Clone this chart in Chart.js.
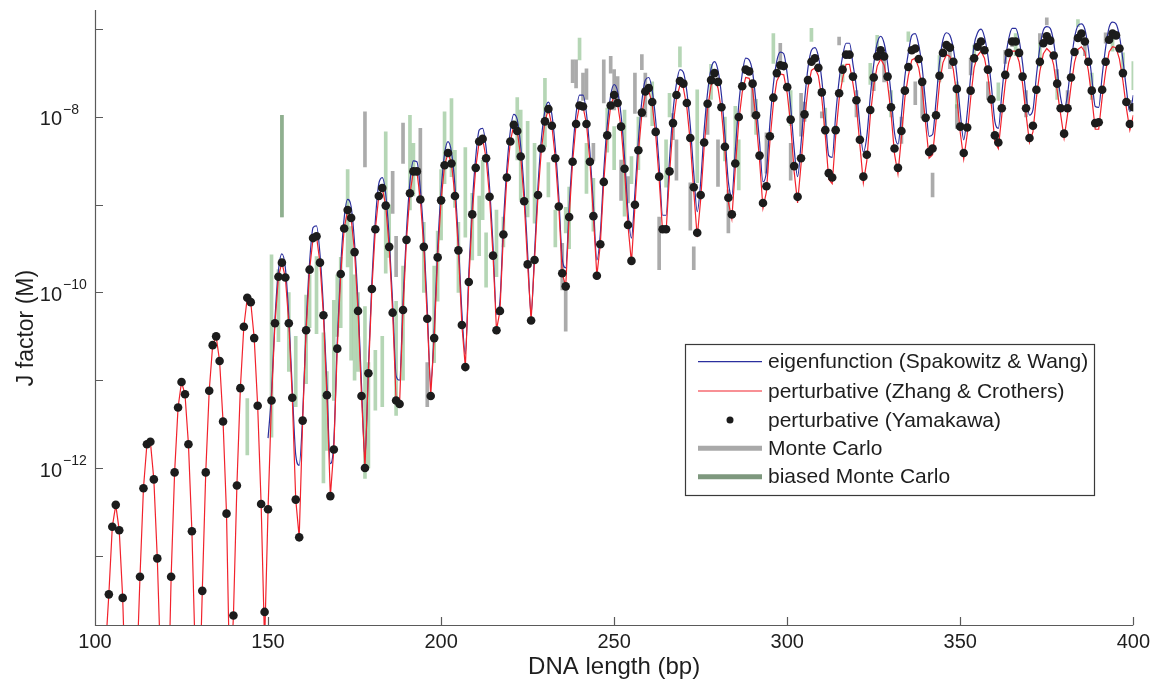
<!DOCTYPE html>
<html><head><meta charset="utf-8">
<script src="https://cdn.jsdelivr.net/npm/chart.js@4.4.1/dist/chart.umd.min.js"></script>
<style>html,body{margin:0;padding:0;background:#fff;}canvas{display:block;}</style>
</head><body>
<canvas id="c" width="1155" height="682"></canvas>
<script>
// ---------------- DATA (log10 of J factor in M, one value per bp) ----------------
const bpStart = 100;          // first DNA length of the per-bp series
const eigenStart = 150;       // eigenfunction curve starts here
const xTickValues = [100, 150, 200, 250, 300, 350, 400];
const yTickExponents = [-7, -8, -9, -10, -11, -12, -13];
const yLabelExponents = [-8, -10, -12];
const yRangeExp = [-13.789, -6.781];

const seriesLabels = ['eigenfunction (Spakowitz & Wang)', 'perturbative (Zhang & Crothers)',
  'perturbative (Yamakawa)', 'Monte Carlo', 'biased Monte Carlo'];

const yamakawaLogJ = [
  null, null, null, null, -13.44, -12.67, -12.42, -12.71, -13.48, null,
  null, null, null, -13.24, -12.23, -11.73, -11.70, -12.13, -13.03, null,
  null, null, -13.24, -12.05, -11.31, -11.02, -11.16, -11.73, -12.72, null,
  null, -13.40, -12.05, -11.12, -10.60, -10.50, -10.78, -11.47, -12.52, null,
  -13.68, -12.20, -11.09, -10.39, -10.06, -10.11, -10.52, -11.29, -12.41, -13.64,
  -12.47, -11.23, -10.35, -9.82, -9.66, -9.83, -10.35, -11.20, -12.36, -12.79,
  -11.46, -10.43, -9.74, -9.38, -9.36, -9.66, -10.26, -11.17, -12.32, -11.79,
  -10.64, -9.79, -9.27, -9.06, -9.15, -9.54, -10.21, -11.18, -12.00, -10.92,
  -9.96, -9.28, -8.90, -8.81, -9.01, -9.48, -10.23, -11.23, -11.27, -10.20,
  -9.40, -8.87, -8.62, -8.62, -8.94, -9.48, -10.30, -11.18, -10.52, -9.60,
  -8.95, -8.55, -8.41, -8.53, -8.90, -9.52, -10.37, -10.85, -9.88, -9.11,
  -8.58, -8.28, -8.25, -8.47, -8.91, -9.58, -10.43, -10.21, -9.34, -8.69,
  -8.28, -8.09, -8.16, -8.45, -8.96, -9.68, -10.32, -9.63, -8.89, -8.36,
  -8.05, -7.91, -8.10, -8.47, -9.02, -9.78, -9.93, -9.14, -8.51, -8.08,
  -7.87, -7.88, -8.08, -8.51, -9.13, -9.81, -9.45, -8.74, -8.21, -7.87,
  -7.75, -7.84, -8.11, -8.59, -9.23, -9.64, -9.00, -8.38, -7.95, -7.71,
  -7.67, -7.83, -8.17, -8.68, -9.28, -9.28, -8.62, -8.07, -7.75, -7.59,
  -7.62, -7.84, -8.24, -8.80, -9.32, -8.89, -8.29, -7.85, -7.58, -7.50,
  -7.60, -7.89, -8.34, -8.92, -9.11, -8.53, -8.00, -7.65, -7.46, -7.48,
  -7.62, -7.98, -8.44, -8.98, -8.79, -8.22, -7.78, -7.50, -7.41, -7.42,
  -7.66, -8.03, -8.56, -8.91, -8.47, -7.97, -7.58, -7.37, -7.33, -7.44,
  -7.72, -8.15, -8.64, -8.69, -8.15, -7.73, -7.46, -7.29, -7.29, -7.54,
  -7.81, -8.26, -8.68, -8.43, -7.92, -7.55, -7.31, -7.24, -7.31, -7.54,
  -7.89, -8.36, -8.58, -8.16, -7.70, -7.43, -7.24, -7.22, -7.34, -7.60,
  -8.01, -8.40, -8.36, -7.98, -7.53, -7.27, -7.18, -7.21, -7.37, -7.68,
  -8.11, -8.41, -8.12, -7.70, -7.33, -7.20, -7.14, -7.24, -7.46, -7.80,
  -8.21, -8.29, -7.90, -7.52, -7.27, -7.14, -7.14, -7.27, -7.54, -7.90,
  -8.24, -8.10, -7.69, -7.37, -7.16, -7.08, -7.13, -7.30, -7.62, -7.90,
  -8.19, -7.90, -7.55, -7.26, -7.10, -7.05, -7.14, -7.37, -7.70, -8.07,
  -8.06, -7.69, -7.37, -7.12, -7.05, -7.07, -7.22, -7.50, -7.83, -8.08,
  -7.89
];

const zhangLogJ = [
  -15.0, -15.8, -15.2, -14.1, -13.44, -12.67, -12.42, -12.71, -13.48, -14.8,
  -15.9, -15.6, -14.4, -13.24, -12.23, -11.73, -11.70, -12.13, -13.03, -14.3,
  -15.7, -15.0, -13.24, -12.05, -11.31, -11.02, -11.16, -11.73, -12.72, -14.2,
  -14.9, -13.40, -12.05, -11.12, -10.60, -10.50, -10.78, -11.47, -12.52, -14.6,
  -13.68, -12.20, -11.09, -10.39, -10.06, -10.11, -10.52, -11.29, -12.41, -14.0,
  -12.47, -11.23, -10.35, -9.82, -9.66, -9.83, -10.35, -11.20, -12.36, -12.79,
  -11.46, -10.43, -9.74, -9.38, -9.36, -9.66, -10.26, -11.17, -12.32, -11.79,
  -10.64, -9.79, -9.27, -9.06, -9.15, -9.54, -10.21, -11.18, -12.00, -10.92,
  -9.96, -9.28, -8.90, -8.81, -9.01, -9.48, -10.23, -11.23, -11.27, -10.20,
  -9.40, -8.87, -8.62, -8.62, -8.94, -9.48, -10.30, -11.18, -10.52, -9.60,
  -8.95, -8.55, -8.41, -8.53, -8.90, -9.52, -10.37, -10.85, -9.88, -9.11,
  -8.58, -8.28, -8.25, -8.47, -8.91, -9.58, -10.43, -10.21, -9.34, -8.69,
  -8.28, -8.09, -8.16, -8.45, -8.96, -9.68, -10.32, -9.63, -8.89, -8.36,
  -8.05, -7.91, -8.10, -8.47, -9.02, -9.78, -9.93, -9.14, -8.51, -8.08,
  -7.87, -7.88, -8.08, -8.51, -9.13, -9.81, -9.45, -8.74, -8.21, -7.87,
  -7.76, -7.85, -8.12, -8.60, -9.24, -9.66, -9.02, -8.40, -7.97, -7.74,
  -7.70, -7.86, -8.20, -8.71, -9.31, -9.31, -8.65, -8.10, -7.79, -7.64,
  -7.67, -7.89, -8.29, -8.85, -9.37, -8.94, -8.34, -7.90, -7.64, -7.57,
  -7.67, -7.93, -8.38, -8.97, -9.16, -8.58, -8.05, -7.72, -7.55, -7.56,
  -7.69, -8.03, -8.49, -9.04, -8.85, -8.28, -7.85, -7.59, -7.51, -7.52,
  -7.73, -8.09, -8.62, -8.98, -8.54, -8.04, -7.67, -7.47, -7.44, -7.53,
  -7.79, -8.21, -8.71, -8.76, -8.22, -7.80, -7.56, -7.40, -7.40, -7.62,
  -7.88, -8.32, -8.75, -8.50, -7.99, -7.64, -7.42, -7.34, -7.41, -7.62,
  -7.96, -8.42, -8.65, -8.23, -7.78, -7.53, -7.35, -7.33, -7.44, -7.68,
  -8.08, -8.47, -8.43, -8.05, -7.62, -7.38, -7.29, -7.31, -7.46, -7.76,
  -8.18, -8.48, -8.20, -7.79, -7.44, -7.30, -7.25, -7.33, -7.54, -7.87,
  -8.28, -8.36, -7.98, -7.62, -7.38, -7.25, -7.25, -7.37, -7.62, -7.97,
  -8.29, -8.17, -7.78, -7.48, -7.28, -7.22, -7.26, -7.41, -7.70, -7.97,
  -8.24, -7.97, -7.65, -7.38, -7.23, -7.20, -7.26, -7.47, -7.78, -8.14,
  -8.14, -7.78, -7.48, -7.26, -7.20, -7.21, -7.34, -7.59, -7.90, -8.15,
  -7.98
];

const eigenLogJ = [
  -11.66, -11.15, -10.30, -9.75, -9.56, -9.72, -10.28, -11.10, -11.85, -11.97,
  -11.40, -10.38, -9.66, -9.26, -9.24, -9.56, -10.18, -11.05, -11.95, -11.70,
  -10.55, -9.70, -9.15, -8.94, -9.02, -9.44, -10.12, -11.05, -11.88, -10.85,
  -9.88, -9.18, -8.76, -8.69, -8.88, -9.38, -10.12, -10.95, -11.00, -10.10,
  -9.30, -8.74, -8.50, -8.51, -8.82, -9.38, -10.18, -11.05, -10.42, -9.50,
  -8.84, -8.42, -8.28, -8.40, -8.78, -9.42, -10.22, -10.70, -9.78, -9.00,
  -8.46, -8.15, -8.13, -8.35, -8.80, -9.46, -10.25, -10.10, -9.22, -8.58,
  -8.16, -7.97, -8.03, -8.33, -8.84, -9.55, -10.25, -9.55, -8.78, -8.24,
  -7.93, -7.83, -7.97, -8.35, -8.90, -9.62, -9.72, -9.02, -8.40, -7.96,
  -7.75, -7.75, -7.96, -8.40, -9.00, -9.63, -9.33, -8.62, -8.09, -7.75,
  -7.63, -7.71, -7.98, -8.46, -9.08, -9.38, -8.86, -8.26, -7.82, -7.58,
  -7.55, -7.70, -8.04, -8.55, -9.12, -9.12, -8.48, -7.94, -7.62, -7.46,
  -7.49, -7.71, -8.10, -8.64, -9.08, -8.74, -8.15, -7.72, -7.45, -7.37,
  -7.47, -7.75, -8.20, -8.74, -8.90, -8.38, -7.86, -7.51, -7.33, -7.35,
  -7.49, -7.84, -8.28, -8.74, -8.62, -8.07, -7.63, -7.36, -7.26, -7.28,
  -7.51, -7.88, -8.36, -8.68, -8.30, -7.82, -7.44, -7.24, -7.21, -7.31,
  -7.58, -8.00, -8.44, -8.46, -7.98, -7.58, -7.31, -7.16, -7.16, -7.40,
  -7.67, -8.10, -8.40, -8.22, -7.77, -7.40, -7.16, -7.08, -7.16, -7.39,
  -7.74, -8.18, -8.31, -7.98, -7.54, -7.27, -7.07, -7.05, -7.18, -7.44,
  -7.85, -8.22, -8.20, -7.82, -7.38, -7.12, -7.04, -7.07, -7.22, -7.52,
  -7.95, -8.26, -7.96, -7.54, -7.18, -7.04, -7.00, -7.09, -7.31, -7.65,
  -8.05, -8.13, -7.74, -7.36, -7.11, -6.99, -6.99, -7.12, -7.39, -7.75,
  -7.98, -7.92, -7.53, -7.21, -7.01, -6.97, -6.99, -7.15, -7.46, -7.78,
  -7.92, -7.74, -7.39, -7.10, -6.96, -6.94, -7.00, -7.22, -7.55, -7.88,
  -7.89, -7.53, -7.21, -6.98, -6.92, -6.94, -7.08, -7.35, -7.68, -7.94,
  -7.75
];

// Monte Carlo error bars: [bp, low log10 J, high log10 J]
const mcBars = [
  [154, -9.14, -7.98], [178, -8.57, -7.94], [186, -9.10, -8.62], [187, -9.82, -9.36], [189, -8.53, -8.07],
  [194, -8.91, -8.13], [196, -11.30, -10.80], [235, -9.97, -9.44], [236, -10.44, -9.97], [238, -7.61, -7.35],
  [239, -7.67, -7.35], [241, -7.81, -7.50], [242, -7.80, -7.45], [244, -8.50, -8.30], [247, -7.84, -7.35],
  [249, -7.50, -7.31], [250, -7.92, -7.46], [251, -7.88, -7.54], [252, -8.95, -8.49], [254, -8.98, -8.68],
  [256, -7.96, -7.50], [258, -7.46, -7.29], [259, -8.00, -7.50], [263, -9.74, -9.14], [267, -8.26, -7.96],
  [268, -8.72, -8.26], [272, -9.29, -8.75], [273, -9.74, -9.48], [277, -8.20, -7.85], [280, -8.79, -8.26],
  [283, -9.32, -8.83], [290, -8.00, -7.62], [294, -8.64, -8.18], [298, -7.46, -7.16], [301, -8.72, -8.30],
  [304, -8.22, -7.73], [305, -8.05, -7.83], [310, -8.01, -7.94], [315, -7.18, -7.09], [320, -8.00, -7.70],
  [325, -7.70, -7.50], [328, -7.60, -7.35], [333, -8.30, -8.00], [337, -7.86, -7.60], [339, -8.01, -7.64],
  [342, -8.91, -8.64], [347, -7.45, -7.25], [349, -8.13, -7.86], [353, -7.52, -7.33], [358, -7.80, -7.60],
  [363, -7.39, -7.24], [365, -7.20, -7.10], [369, -8.00, -7.70], [373, -7.16, -7.05], [375, -6.95, -6.87],
  [378, -7.58, -7.46], [381, -7.90, -7.70], [386, -7.30, -7.10], [392, -7.16, -7.04], [399, -7.92, -7.81]
];

// biased Monte Carlo error bars: [bp, low log10 J, high log10 J]
const biasedMcBars = [
  [144, -11.85, -11.21], [151, -11.65, -9.57], [153, -10.56, -9.74], [154, -9.14, -7.98], [156, -10.90, -10.00],
  [158, -11.30, -10.50], [161, -11.04, -10.03], [162, -10.40, -9.80], [164, -10.47, -9.59], [166, -12.17, -10.46],
  [167, -11.80, -10.90], [169, -11.23, -10.09], [170, -10.50, -9.80], [171, -10.40, -9.60], [173, -9.71, -8.60],
  [174, -10.77, -9.25], [175, -11.00, -9.80], [176, -10.90, -10.00], [178, -12.12, -10.16], [179, -12.00, -10.80],
  [181, -11.34, -10.66], [183, -11.30, -10.50], [184, -9.78, -8.17], [185, -9.60, -9.00], [187, -11.40, -10.10],
  [189, -11.00, -9.70], [191, -9.06, -7.98], [192, -8.90, -8.30], [195, -10.00, -9.20], [198, -10.80, -9.70],
  [199, -10.10, -9.30], [200, -9.40, -8.60], [201, -8.76, -7.94], [203, -8.68, -7.79], [204, -9.03, -8.38],
  [205, -10.00, -9.20], [207, -9.37, -8.35], [209, -9.63, -8.87], [211, -9.58, -8.90], [212, -9.17, -8.49],
  [213, -9.94, -9.32], [216, -9.82, -9.06], [218, -9.48, -9.14], [222, -8.49, -7.78], [223, -8.95, -7.92],
  [225, -9.14, -8.05], [227, -9.21, -8.30], [230, -8.34, -7.56], [231, -8.91, -8.52], [233, -9.48, -9.06],
  [236, -9.32, -9.03], [237, -9.50, -8.80], [240, -7.35, -7.10], [242, -8.87, -8.30], [244, -9.30, -8.70],
  [248, -8.40, -7.90], [250, -8.60, -8.11], [253, -9.13, -7.92], [255, -8.76, -8.45], [257, -8.60, -8.00],
  [261, -8.10, -7.60], [265, -8.80, -8.26], [266, -8.00, -7.73], [269, -7.43, -7.20], [274, -8.75, -7.69],
  [278, -7.80, -7.40], [282, -8.50, -8.00], [285, -8.49, -7.88], [286, -8.83, -8.26], [291, -8.20, -7.80],
  [296, -7.39, -7.05], [301, -8.10, -7.70], [307, -7.14, -6.99], [311, -8.20, -7.90], [316, -7.60, -7.40],
  [324, -7.63, -7.39], [326, -7.22, -7.07], [330, -8.00, -7.70], [335, -7.14, -7.03], [344, -7.60, -7.30],
  [349, -7.90, -7.60], [354, -7.38, -7.18], [361, -7.81, -7.61], [366, -7.30, -7.05], [373, -7.43, -7.16],
  [378, -7.80, -7.55], [384, -6.97, -6.89], [388, -7.80, -7.50], [394, -7.25, -7.05], [397, -7.48, -7.27],
  [400, -7.69, -7.37]
];

// ---------------- STYLE ----------------
const FONT = '"Liberation Sans", Arial, Helvetica, sans-serif';
const TEXT = '#1e1e1e';
const AXIS = '#5a5a5a';
const BLUE = '#2b2f9e';
const RED = '#f2222c';
const DOT = '#1c1c1c';
const MC_COLOR = 'rgba(150,150,150,0.80)';
const BMC_COLOR = 'rgba(120,180,120,0.55)';

const pw = v => Math.pow(10, v);
const toPts = (arr, start) => arr.map((v, i) => ({x: start + i, y: v === null ? null : pw(v)}));
const toBars = rows => rows.map(r => ({x: r[0], y: [pw(r[1]), pw(r[2])]}));

const datasets = [
  {type: 'line', label: seriesLabels[0], data: toPts(eigenLogJ, eigenStart), borderColor: BLUE, borderWidth: 1.2,
   pointRadius: 0, cubicInterpolationMode: 'monotone', order: 2, fill: false},
  {type: 'line', label: seriesLabels[1], data: toPts(zhangLogJ, bpStart), borderColor: RED, borderWidth: 1.2,
   pointRadius: 0, tension: 0, order: 1, fill: false},
  {type: 'line', label: seriesLabels[2], data: toPts(yamakawaLogJ, bpStart), showLine: false, pointRadius: 4.3,
   pointBackgroundColor: DOT, pointBorderWidth: 0, borderColor: DOT, order: 0},
  {type: 'bar', label: seriesLabels[3], data: toBars(mcBars), backgroundColor: MC_COLOR,
   barThickness: 3, grouped: false, borderWidth: 0, order: 4},
  {type: 'bar', label: seriesLabels[4], data: toBars(biasedMcBars), backgroundColor: BMC_COLOR,
   barThickness: 3, grouped: false, borderWidth: 0, order: 3}
];

// axes, y tick labels with exponents, y title and boxed legend
const decorPlugin = {
  id: 'decor',
  afterDraw(chart) {
    const {ctx, chartArea: a, scales} = chart;
    const xs = scales.x, ys = scales.y;
    ctx.save();
    ctx.strokeStyle = AXIS; ctx.lineWidth = 1.2;
    ctx.beginPath();
    ctx.moveTo(a.left + 0.5, a.top); ctx.lineTo(a.left + 0.5, a.bottom + 0.5); ctx.lineTo(a.right, a.bottom + 0.5);
    xTickValues.forEach(v => { const p = Math.round(xs.getPixelForValue(v)) + 0.5; ctx.moveTo(p, a.bottom); ctx.lineTo(p, a.bottom - 8); });
    yTickExponents.forEach(e => { const p = Math.round(ys.getPixelForValue(pw(e))) + 0.5; ctx.moveTo(a.left, p); ctx.lineTo(a.left + 8, p); });
    ctx.stroke();

    ctx.fillStyle = TEXT;
    ctx.textBaseline = 'middle';
    yLabelExponents.forEach(e => {
      const p = ys.getPixelForValue(pw(e));
      ctx.font = `20px ${FONT}`; ctx.textAlign = 'right';
      ctx.fillText('10', 62, p + 3);
      ctx.font = `14px ${FONT}`; ctx.textAlign = 'left';
      ctx.fillText('\u2212' + Math.abs(e), 63, p - 7);
    });
    ctx.save();
    ctx.translate(27, 328); ctx.rotate(-Math.PI / 2);
    ctx.font = `23px ${FONT}`; ctx.textAlign = 'center';
    ctx.fillText('J factor (M)', 0, 0);
    ctx.restore();

    // legend
    const L = {x: 685, y: 344, w: 409, h: 151};
    ctx.fillStyle = '#fff'; ctx.fillRect(L.x, L.y, L.w, L.h);
    ctx.strokeStyle = '#3a3a3a'; ctx.lineWidth = 1.2; ctx.strokeRect(L.x + 0.5, L.y + 0.5, L.w, L.h);
    const rows = [361.7, 391, 420, 448.3, 476.7];
    const styles = [
      {kind: 'line', color: BLUE, w: 1.2}, {kind: 'line', color: RED, w: 1.2}, {kind: 'dot', color: DOT},
      {kind: 'line', color: '#a9a9a9', w: 5}, {kind: 'line', color: '#7e987e', w: 5}];
    chart.data.datasets.forEach((ds, i) => {
      const yy = rows[i], s = styles[i];
      if (s.kind === 'line') {
        ctx.strokeStyle = s.color; ctx.lineWidth = s.w;
        ctx.beginPath(); ctx.moveTo(698, yy); ctx.lineTo(762, yy); ctx.stroke();
      } else {
        ctx.fillStyle = s.color; ctx.beginPath(); ctx.arc(730, yy, 3.5, 0, Math.PI * 2); ctx.fill();
      }
      ctx.fillStyle = TEXT; ctx.font = `21px ${FONT}`; ctx.textAlign = 'left'; ctx.textBaseline = 'middle';
      ctx.fillText(ds.label, 768, yy + 1);
    });
    ctx.restore();
  }
};

new Chart(document.getElementById('c'), {
  type: 'line',
  data: {datasets},
  plugins: [decorPlugin],
  options: {
    responsive: false, animation: false, devicePixelRatio: 1, events: [],
    layout: {padding: {left: 95, right: 20, top: 10, bottom: 0}},
    plugins: {legend: {display: false}, tooltip: {enabled: false}},
    scales: {
      x: {type: 'linear', min: 100, max: 400, offset: false,
          afterFit: s => { s.height = 57; },
          grid: {display: false, drawTicks: false}, border: {display: false},
          ticks: {stepSize: 50, autoSkip: false, maxRotation: 0, padding: 5, color: TEXT, font: {family: FONT, size: 20}},
          title: {display: true, text: 'DNA length (bp)', color: TEXT, font: {family: FONT, size: 24}, padding: {top: 0, bottom: 0}}},
      y: {type: 'logarithmic', display: false, min: pw(yRangeExp[0]), max: pw(yRangeExp[1])}
    }
  }
});
</script>
</body></html>
